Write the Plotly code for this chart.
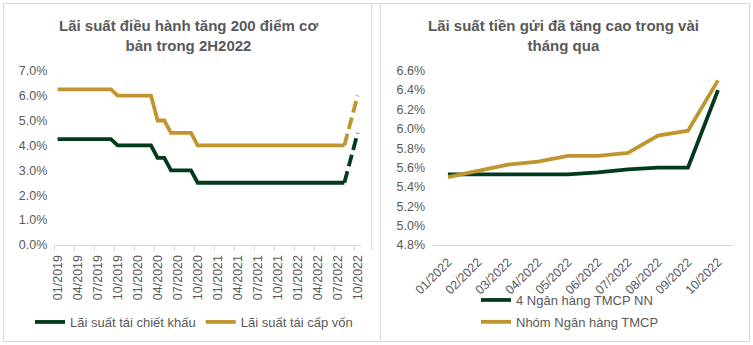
import plotly.graph_objects as go

W, H = 753, 345

# ---------------- data ----------------
months_left = ["01/2019", "02/2019", "03/2019", "04/2019", "05/2019", "06/2019",
               "07/2019", "08/2019", "09/2019", "10/2019", "11/2019", "12/2019",
               "01/2020", "02/2020", "03/2020", "04/2020", "05/2020", "06/2020",
               "07/2020", "08/2020", "09/2020", "10/2020", "11/2020", "12/2020",
               "01/2021", "02/2021", "03/2021", "04/2021", "05/2021", "06/2021",
               "07/2021", "08/2021", "09/2021", "10/2021", "11/2021", "12/2021",
               "01/2022", "02/2022", "03/2022", "04/2022", "05/2022", "06/2022",
               "07/2022", "08/2022", "09/2022", "10/2022"]

discount_rate = [4.25, 4.25, 4.25, 4.25, 4.25, 4.25, 4.25, 4.25, 4.25,
                 4.0, 4.0, 4.0, 4.0, 4.0, 4.0,
                 3.5, 3.5,
                 3.0, 3.0, 3.0, 3.0,
                 2.5, 2.5, 2.5, 2.5, 2.5, 2.5, 2.5, 2.5, 2.5, 2.5, 2.5, 2.5,
                 2.5, 2.5, 2.5, 2.5, 2.5, 2.5, 2.5, 2.5, 2.5, 2.5, 2.5,
                 3.5, 4.5]

refinance_rate = [6.25, 6.25, 6.25, 6.25, 6.25, 6.25, 6.25, 6.25, 6.25,
                  6.0, 6.0, 6.0, 6.0, 6.0, 6.0,
                  5.0, 5.0,
                  4.5, 4.5, 4.5, 4.5,
                  4.0, 4.0, 4.0, 4.0, 4.0, 4.0, 4.0, 4.0, 4.0, 4.0, 4.0, 4.0,
                  4.0, 4.0, 4.0, 4.0, 4.0, 4.0, 4.0, 4.0, 4.0, 4.0, 4.0,
                  5.0, 6.0]

months_right = ["01/2022", "02/2022", "03/2022", "04/2022", "05/2022",
                "06/2022", "07/2022", "08/2022", "09/2022", "10/2022"]
state_banks = [5.53, 5.53, 5.53, 5.53, 5.53, 5.55, 5.58, 5.60, 5.60, 6.40]
jsc_banks = [5.50, 5.57, 5.63, 5.66, 5.72, 5.72, 5.75, 5.93, 5.98, 6.50]

left_names = ["Lãi suất tái chiết khấu", "Lãi suất tái cấp vốn"]
right_names = ["4 Ngân hàng TMCP NN", "Nhóm Ngân hàng TMCP"]
titles = ["Lãi suất điều hành tăng 200 điểm cơ<br>bản trong 2H2022",
          "Lãi suất tiền gửi đã tăng cao trong vài<br>tháng qua"]

# ---------------- style ----------------
GREEN = "#033A1B"
GOLD = "#C0952F"
TXT = "#595959"
AX = "#D9D9D9"
FONT = "Liberation Sans, Arial, sans-serif"
LW = 3.8
DASH = "12px,5px"
solid_end = months_left.index("08/2022")  # solid up to here, dashed after

def px_x(p):
    return p / W

def px_y(p):
    return 1 - p / H

idx = list(range(len(months_left)))

fig = go.Figure()

# Left chart
fig.add_trace(go.Scatter(x=idx[:solid_end + 1], y=discount_rate[:solid_end + 1],
                         mode="lines", name=left_names[0],
                         line=dict(color=GREEN, width=LW),
                         xaxis="x", yaxis="y", legend="legend"))
fig.add_trace(go.Scatter(x=idx[:solid_end + 1], y=refinance_rate[:solid_end + 1],
                         mode="lines", name=left_names[1],
                         line=dict(color=GOLD, width=LW),
                         xaxis="x", yaxis="y", legend="legend"))
fig.add_trace(go.Scatter(x=idx[solid_end:], y=discount_rate[solid_end:],
                         mode="lines", showlegend=False,
                         line=dict(color=GREEN, width=LW, dash=DASH),
                         xaxis="x", yaxis="y"))
fig.add_trace(go.Scatter(x=idx[solid_end:], y=refinance_rate[solid_end:],
                         mode="lines", showlegend=False,
                         line=dict(color=GOLD, width=LW, dash=DASH),
                         xaxis="x", yaxis="y"))

# Right chart
fig.add_trace(go.Scatter(x=months_right, y=state_banks, mode="lines",
                         name=right_names[0], line=dict(color=GREEN, width=LW),
                         xaxis="x2", yaxis="y2", legend="legend2", legendgroup="a"))
fig.add_trace(go.Scatter(x=months_right, y=jsc_banks, mode="lines",
                         name=right_names[1], line=dict(color=GOLD, width=LW),
                         xaxis="x2", yaxis="y2", legend="legend2", legendgroup="b"))

ydom = [px_y(245), px_y(70.7)]
tickfont = dict(family=FONT, size=12.5, color=TXT)
legfont = dict(family=FONT, size=13, color=TXT)

fig.update_layout(
    width=W, height=H, margin=dict(l=0, r=0, t=0, b=0, autoexpand=False),
    paper_bgcolor="white", plot_bgcolor="white",
    font=dict(family=FONT, size=12, color=TXT),
    xaxis=dict(domain=[px_x(54.3), px_x(361)], anchor="y", automargin=False,
               range=[-0.5, len(months_left) - 0.5],
               tickmode="array", tickvals=idx[::3], ticktext=months_left[::3],
               tickangle=-90, ticks="", showgrid=False, zeroline=False,
               showline=True, linecolor=AX, linewidth=1,
               tickfont=tickfont, ticklabelstandoff=4,
               minor=dict(tickmode="array",
                          tickvals=[i - 0.5 for i in idx[::3]],
                          ticks="outside", ticklen=5, tickcolor=AX,
                          tickwidth=1, showgrid=False)),
    yaxis=dict(domain=ydom, anchor="x", range=[0, 7], dtick=1, automargin=False,
               tickformat=".1f", ticksuffix="%", showgrid=False,
               zeroline=False, showline=False, ticks="",
               tickfont=tickfont, ticklabelstandoff=6),
    xaxis2=dict(domain=[px_x(433), px_x(733)], anchor="y2", automargin=False,
                type="category", range=[-0.5, 9.5],
                tickangle=-45, ticks="", showgrid=False, zeroline=False,
                showline=True, linecolor=AX, linewidth=1,
                tickfont=tickfont, ticklabelstandoff=4),
    yaxis2=dict(domain=ydom, anchor="x2", range=[4.8, 6.6], dtick=0.2,
                automargin=False,
                tickformat=".1f", ticksuffix="%", showgrid=False,
                zeroline=False, showline=False, ticks="",
                tickfont=tickfont, ticklabelstandoff=7),
    legend=dict(orientation="h", x=px_x(194), xanchor="center",
                y=px_y(322), yanchor="middle", font=legfont,
                bgcolor="rgba(0,0,0,0)", itemwidth=30),
    legend2=dict(orientation="v", x=px_x(476), xanchor="left",
                 y=px_y(311), yanchor="middle", tracegroupgap=2,
                 font=legfont, bgcolor="rgba(0,0,0,0)", itemwidth=30),
    showlegend=True,
)

# titles
for txt, cx in zip(titles, [188, 563]):
    fig.add_annotation(text="<b>" + txt + "</b>", xref="paper", yref="paper",
                       x=px_x(cx), y=px_y(35), xanchor="center", yanchor="middle",
                       showarrow=False, align="center",
                       font=dict(family=FONT, size=15, color=TXT))

# panel borders
border = dict(color=AX, width=1)
fig.add_shape(type="rect", xref="paper", yref="paper",
              x0=px_x(3.5), x1=px_x(749.5), y0=px_y(341.5), y1=px_y(3.5), line=border)
fig.add_shape(type="line", xref="paper", yref="paper",
              x0=px_x(380.5), x1=px_x(380.5), y0=px_y(341.5), y1=px_y(3.5), line=border)
fig.add_shape(type="line", xref="paper", yref="paper",
              x0=px_x(371.5), x1=px_x(371.5), y0=px_y(250), y1=px_y(3.5), line=border)

fig.write_html("out.html")
